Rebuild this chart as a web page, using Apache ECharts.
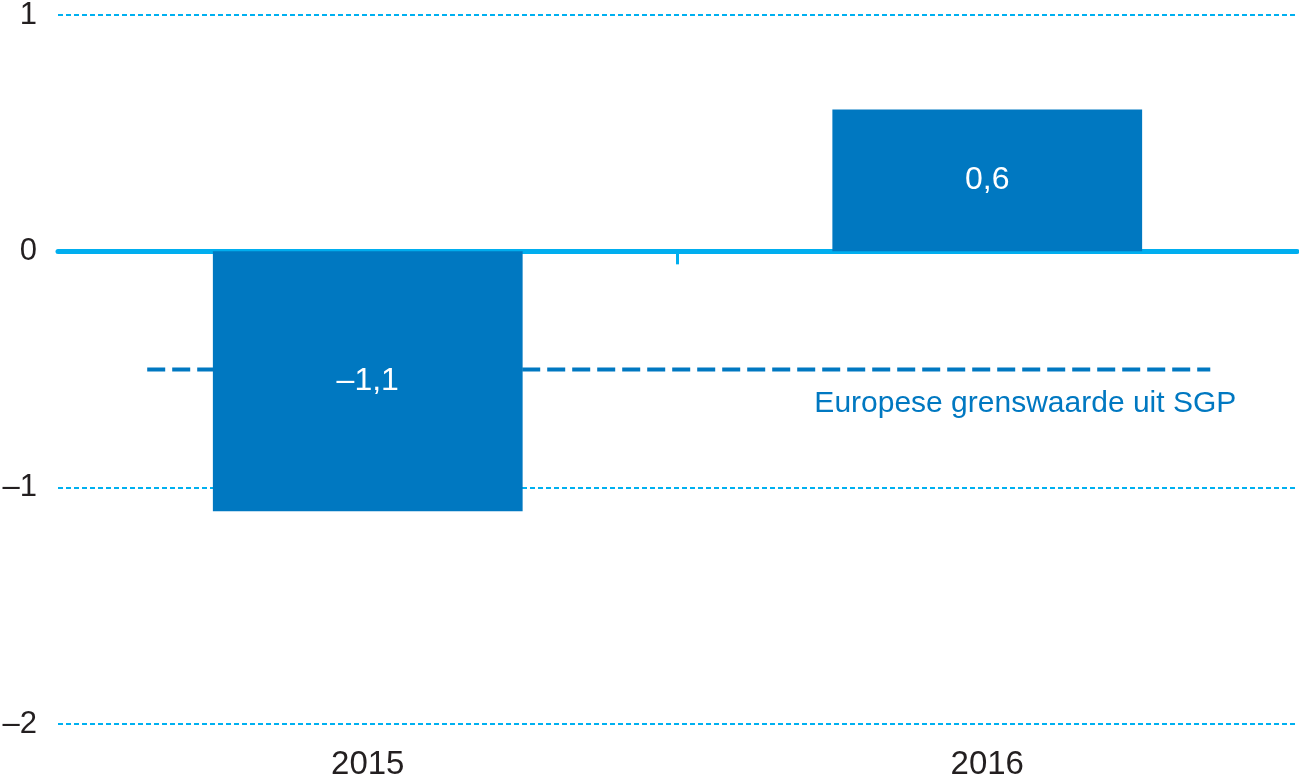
<!DOCTYPE html>
<html>
<head>
<meta charset="utf-8">
<script src="https://cdn.jsdelivr.net/npm/echarts@6/dist/echarts.min.js"></script>
<style>html,body{margin:0;padding:0;background:#fff}#c{width:1299px;height:781px}</style>
</head>
<body>
<div id="c"></div>
<script>
const categories = ['2015', '2016'];
const balance = [-1.1, 0.6];
const limitValue = -0.5;
const limitExtent = [-0.356, 1.36];
const limitLabel = 'Europese grenswaarde uit SGP';
const yTicks = [-2, -1, 0, 1];
const categoryDivider = [0.5];

const fmt = v => (v < 0 ? '\u2013' : '') + String(Math.abs(v)).replace('.', ',');
const FONT = 'Liberation Sans';
const chart = echarts.init(document.getElementById('c'), null, {renderer: 'canvas'});
chart.setOption({
  animation: false,
  grid: {left: 58, right: 2, top: 15, bottom: 57, containLabel: false, outerBoundsMode: 'none'},
  xAxis: [
    {type: 'category', data: categories, position: 'bottom',
     axisLine: {show: false, onZero: false}, axisTick: {show: false},
     axisLabel: {color: '#231f20', fontSize: 33, fontFamily: FONT, margin: 24}},
    {type: 'value', min: -0.5, max: 1.5, position: 'bottom',
     splitLine: {show: false},
     axisLine: {show: true, onZero: true, lineStyle: {color: '#00aeef', width: 5}},
     axisTick: {show: true, length: 13, customValues: categoryDivider,
                lineStyle: {color: '#00aeef', width: 3}},
     axisLabel: {show: false}}
  ],
  yAxis: {
    type: 'value', min: yTicks[0], max: yTicks[yTicks.length - 1], interval: 1,
    axisLine: {show: false}, axisTick: {show: false},
    axisLabel: {color: '#231f20', fontSize: 31, fontFamily: FONT, margin: 21, formatter: fmt},
    splitLine: {show: true, lineStyle: {color: '#00b0f0', width: 2, type: [5, 3]}}
  },
  series: [
    {type: 'bar', xAxisIndex: 0, data: balance, barWidth: '50%', z: 3,
     itemStyle: {color: '#0078c1'},
     label: {show: true, position: 'inside', color: '#ffffff', fontSize: 32, fontFamily: FONT,
             formatter: p => fmt(p.value)}},
    {type: 'line', xAxisIndex: 1, data: limitExtent.map(x => [x, limitValue]),
     showSymbol: false, symbol: 'none', z: 2,
     lineStyle: {color: '#0078c1', width: 4, type: [18, 7]},
     endLabel: {show: true, formatter: limitLabel, color: '#0078c1', fontSize: 30, fontFamily: FONT,
                align: 'right', verticalAlign: 'middle', offset: [26, 34], distance: 0}}
  ]
});
</script>
</body>
</html>
